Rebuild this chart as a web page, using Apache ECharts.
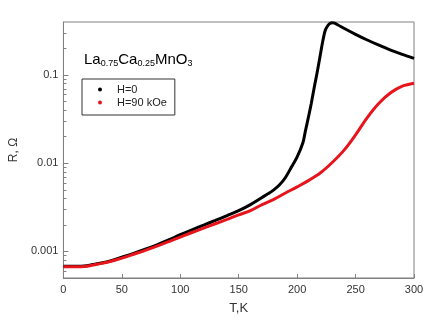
<!DOCTYPE html>
<html>
<head>
<meta charset="utf-8">
<script src="https://cdn.jsdelivr.net/npm/echarts@6/dist/echarts.min.js"></script>
<style>
  html, body { margin: 0; padding: 0; background: #fff; }
  #chart { width: 436px; height: 321px; }
</style>
</head>
<body>
<div id="chart"></div>
<script>
// temperature (K) and resistance (Ohm)
const tempZero = [0, 10, 20, 25, 30, 40, 50, 60, 70, 80, 90, 100, 110, 120, 130, 140, 150, 160, 170, 175, 180, 185, 190, 195, 200, 205, 207, 210, 212, 215, 217, 220, 222, 224, 226, 228, 230, 232, 235, 240, 250, 260, 270, 280, 290, 300];
const resZero = [0.00068, 0.00068, 0.00069, 0.00071, 0.00073, 0.00078, 0.00086, 0.00095, 0.00106, 0.00119, 0.00135, 0.00155, 0.00176, 0.00199, 0.00225, 0.00255, 0.0029, 0.0034, 0.0041, 0.0045, 0.0050, 0.0057, 0.0069, 0.0090, 0.0118, 0.0172, 0.023, 0.035, 0.047, 0.077, 0.105, 0.175, 0.245, 0.32, 0.36, 0.385, 0.392, 0.388, 0.37, 0.34, 0.29, 0.25, 0.218, 0.192, 0.172, 0.155];

const tempField = [0, 10, 20, 25, 30, 40, 50, 60, 70, 80, 90, 100, 110, 120, 130, 140, 150, 160, 170, 180, 190, 200, 210, 220, 230, 240, 250, 260, 270, 280, 290, 300];
const resField = [0.00067, 0.00067, 0.00068, 0.0007, 0.00072, 0.00077, 0.00084, 0.00093, 0.00103, 0.00115, 0.00129, 0.00145, 0.00164, 0.00184, 0.00206, 0.00231, 0.0026, 0.0029, 0.0034, 0.0039, 0.0046, 0.0054, 0.0064, 0.0078, 0.0102, 0.014, 0.021, 0.033, 0.048, 0.063, 0.075, 0.081];

const xTicks = [0, 50, 100, 150, 200, 250, 300];
const yMajor = [0.001, 0.01, 0.1];
const yMinor = [0.0006, 0.0007, 0.0008, 0.0009, 0.002, 0.003, 0.004, 0.005, 0.006, 0.007, 0.008, 0.009,
  0.02, 0.03, 0.04, 0.05, 0.06, 0.07, 0.08, 0.09, 0.2, 0.3];

const font = 'Liberation Sans, Arial, sans-serif';
const frame = '#808080';

const chart = echarts.init(document.getElementById('chart'), null, { renderer: 'canvas' });

const pairs = (xs, ys) => xs.map((x, i) => [x, ys[i]]);

chart.setOption({
  animation: false,
  backgroundColor: '#fff',
  title: {
    left: 79,
    top: 46,
    text: '{m|La}{s|0.75}{m|Ca}{s|0.25}{m|MnO}{s|3}',
    textStyle: {
      rich: {
        m: { fontFamily: font, fontSize: 15, fontWeight: 'normal', color: '#000', lineHeight: 17 },
        s: { fontFamily: font, fontSize: 9, fontWeight: 'normal', color: '#000', lineHeight: 9, verticalAlign: 'bottom' },
      },
    },
  },
  legend: {
    left: 82,
    top: 79,
    orient: 'vertical',
    icon: 'circle',
    itemWidth: 4,
    itemHeight: 4,
    itemGap: 2,
    padding: [5, 8, 7, 16],
    borderColor: '#333',
    borderWidth: 1,
    borderRadius: 0,
    textStyle: { fontFamily: font, fontSize: 11, color: '#222', padding: [0, 0, 0, 10] },
    data: ['H=0', 'H=90 kOe'],
  },
  grid: {
    left: 58,
    right: 22,
    top: 22,
    bottom: 43,
    show: true,
    borderColor: frame,
    borderWidth: 1,
  },
  xAxis: {
    type: 'value',
    min: 0,
    max: 300,
    interval: 50,
    name: 'T,K',
    nameLocation: 'middle',
    nameGap: 24,
    nameTextStyle: { fontFamily: font, fontSize: 13, color: '#333' },
    axisLine: { lineStyle: { color: frame } },
    axisTick: { inside: true, length: 4, lineStyle: { color: frame } },
    axisLabel: { fontFamily: font, fontSize: 11, color: '#333', margin: 6, customValues: xTicks },
    splitLine: { show: false },
  },
  yAxis: [
    {
      type: 'log',
      logBase: 10,
      min: 0.0005,
      max: 0.4,
      name: 'R, Ω',
      nameLocation: 'middle',
      nameGap: 42,
      nameTextStyle: { fontFamily: font, fontSize: 12, color: '#333' },
      axisLine: { lineStyle: { color: frame } },
      axisTick: { inside: true, length: 5, lineStyle: { color: frame }, customValues: yMajor },
      axisLabel: {
        fontFamily: font, fontSize: 11, color: '#333', margin: 5,
        customValues: yMajor,
        formatter: (v) => String(+v.toPrecision(3)),
      },
      splitLine: { show: false },
    },
    {
      type: 'log',
      logBase: 10,
      min: 0.0005,
      max: 0.4,
      position: 'left',
      axisLine: { show: false },
      axisTick: { inside: true, length: 3, lineStyle: { color: frame }, customValues: yMinor },
      axisLabel: { show: false },
      splitLine: { show: false },
    },
  ],
  series: [
    {
      name: 'H=0',
      type: 'line',
      data: pairs(tempZero, resZero),
      smooth: 0.35,
      showSymbol: false,
      symbol: 'circle',
      color: '#000',
      lineStyle: { color: '#000', width: 3 },
    },
    {
      name: 'H=90 kOe',
      type: 'line',
      data: pairs(tempField, resField),
      smooth: 0.35,
      showSymbol: false,
      symbol: 'circle',
      color: '#e8141b',
      lineStyle: { color: '#e8141b', width: 3 },
    },
  ],
});
</script>
</body>
</html>
